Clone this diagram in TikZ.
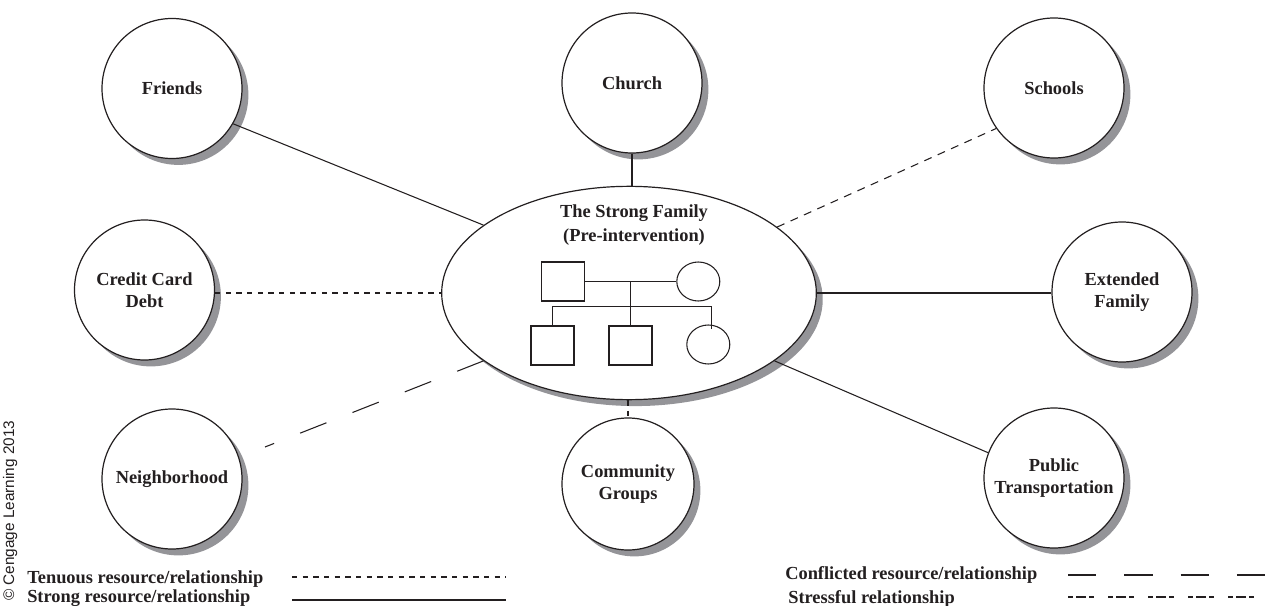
\documentclass[tikz,border=0pt]{standalone}
\usepackage{fontspec}
\setmainfont{Liberation Serif}
\newfontfamily\copyfont{Liberation Sans}
\usetikzlibrary{shapes.geometric,shadows,calc}
\definecolor{shadowgray}{RGB}{148,148,152}
\definecolor{inkcol}{RGB}{35,31,32}
\begin{document}
\begin{tikzpicture}[x=0.75pt,y=-0.75pt,
  font=\fontsize{13.8}{16.5}\selectfont\bfseries,
  text=inkcol, draw=inkcol,
  shade/.style={drop shadow={shadow xshift=4.8pt,shadow yshift=-4.8pt,fill=shadowgray,opacity=1}},
  ecocircle/.style={circle,draw=inkcol,line width=0.9pt,fill=white,minimum size=105pt,inner sep=0pt,align=center,shade},
  geno/.style={draw=inkcol,line width=0.8pt,minimum width=32.25pt,minimum height=29.25pt,inner sep=0pt},
  conn/.style={draw=inkcol,line width=0.8pt},
  tenuous/.style={conn,dash pattern=on 4pt off 4pt},
  schooldash/.style={conn,dash pattern=on 6pt off 5pt},
  conflicted/.style={conn,dash pattern=on 21.2pt off 21pt},
  stressful/.style={conn,dash pattern=on 3.75pt off 2.25pt on 7.5pt off 2.25pt on 3.75pt off 10.5pt},
  legend/.style={anchor=base west,inner sep=0pt}]
\useasboundingbox (0,0) rectangle (1277,606);

% central ellipse
\node[ellipse,draw=inkcol,line width=0.9pt,fill=white,minimum width=281pt,minimum height=160pt,inner sep=0pt,shade] (fam) at (629,293) {};
\node[align=center,font=\fontsize{13.8}{18}\selectfont\bfseries] (famtext) at (634,225) {The Strong Family\\(Pre-intervention)};

% genogram
\node[geno,rectangle] (father) at (563.3,281.5) {};
\node[geno,ellipse] (mother) at (698.3,281.5) {};
\node[geno,rectangle] (son1) at (552.5,345.5) {};
\node[geno,rectangle] (son2) at (630.5,345.5) {};
\node[geno,ellipse] (daughter) at (708.3,344.5) {};
\coordinate (sib) at (630.5,306.7);
\coordinate (dtop) at (711.7,329);
\draw[conn] (father.east) -- (mother.west);
\draw[conn] (father.east -| son2.north) -- (son2.north);
\draw[conn] (son1.north) |- (sib) -| (dtop);

% outer circles
\node[ecocircle] (friends) at (172,88.5) {Friends};
\node[ecocircle] (church) at (632,83) {Church};
\node[ecocircle] (schools) at (1054,88) {Schools};
\node[ecocircle] (credit) at (144.5,290) {Credit Card\\Debt};
\node[ecocircle] (extended) at (1122,292) {Extended\\Family};
\node[ecocircle] (neigh) at (172,479) {Neighborhood};
\node[ecocircle,minimum size=99pt] (community) at (628,484) {Community\\Groups};
\node[ecocircle] (public) at (1054,478) {Public\\Transportation};

% connectors
\draw[conn] (friends.-30.7) -- (fam.155.8);
\draw[conn] (church.south) -- (church.south |- fam.north);
\draw[schooldash] (fam.24.9) -- (schools.-145.5);
\draw[tenuous] (credit.east |- fam.west) -- (fam.west);
\draw[conn] (fam.east) -- (fam.east -| extended.west);
\draw[tenuous] (community.north |- fam.south) -- (community.north);
\draw[conn] (fam.-25.1) -- (public.159);
\coordinate (neighend) at (265,447);
\draw[conflicted] (fam.-155.7) -- (neighend);

% copyright
\node[font=\copyfont\mdseries\fontsize{11.5}{13}\selectfont,rotate=90,anchor=base west,inner sep=0pt] (copy) at (14,601) {© Cengage Learning 2013};

% legend
\node[legend] (ltenuous) at (27,583) {Tenuous resource/relationship};
\node[legend] (lstrong) at (27,602) {Strong resource/relationship};
\node[legend] (lconf) at (785,579) {Conflicted resource/relationship};
\node[legend] (lstress) at (788,603) {Stressful relationship};
\coordinate (ta) at (292,577); \coordinate (tb) at (506,577);
\coordinate (sa) at (292,600); \coordinate (sb) at (506,600);
\coordinate (ca) at (1068,575); \coordinate (cb) at (1266,575);
\coordinate (ra) at (1068,597); \coordinate (rb) at (1256,597);
\draw[tenuous] (ta) -- (tb);
\draw[conn] (sa) -- (sb);
\draw[conflicted] (ca) -- (cb);
\draw[stressful] (ra) -- (rb);
\end{tikzpicture}
\end{document}
